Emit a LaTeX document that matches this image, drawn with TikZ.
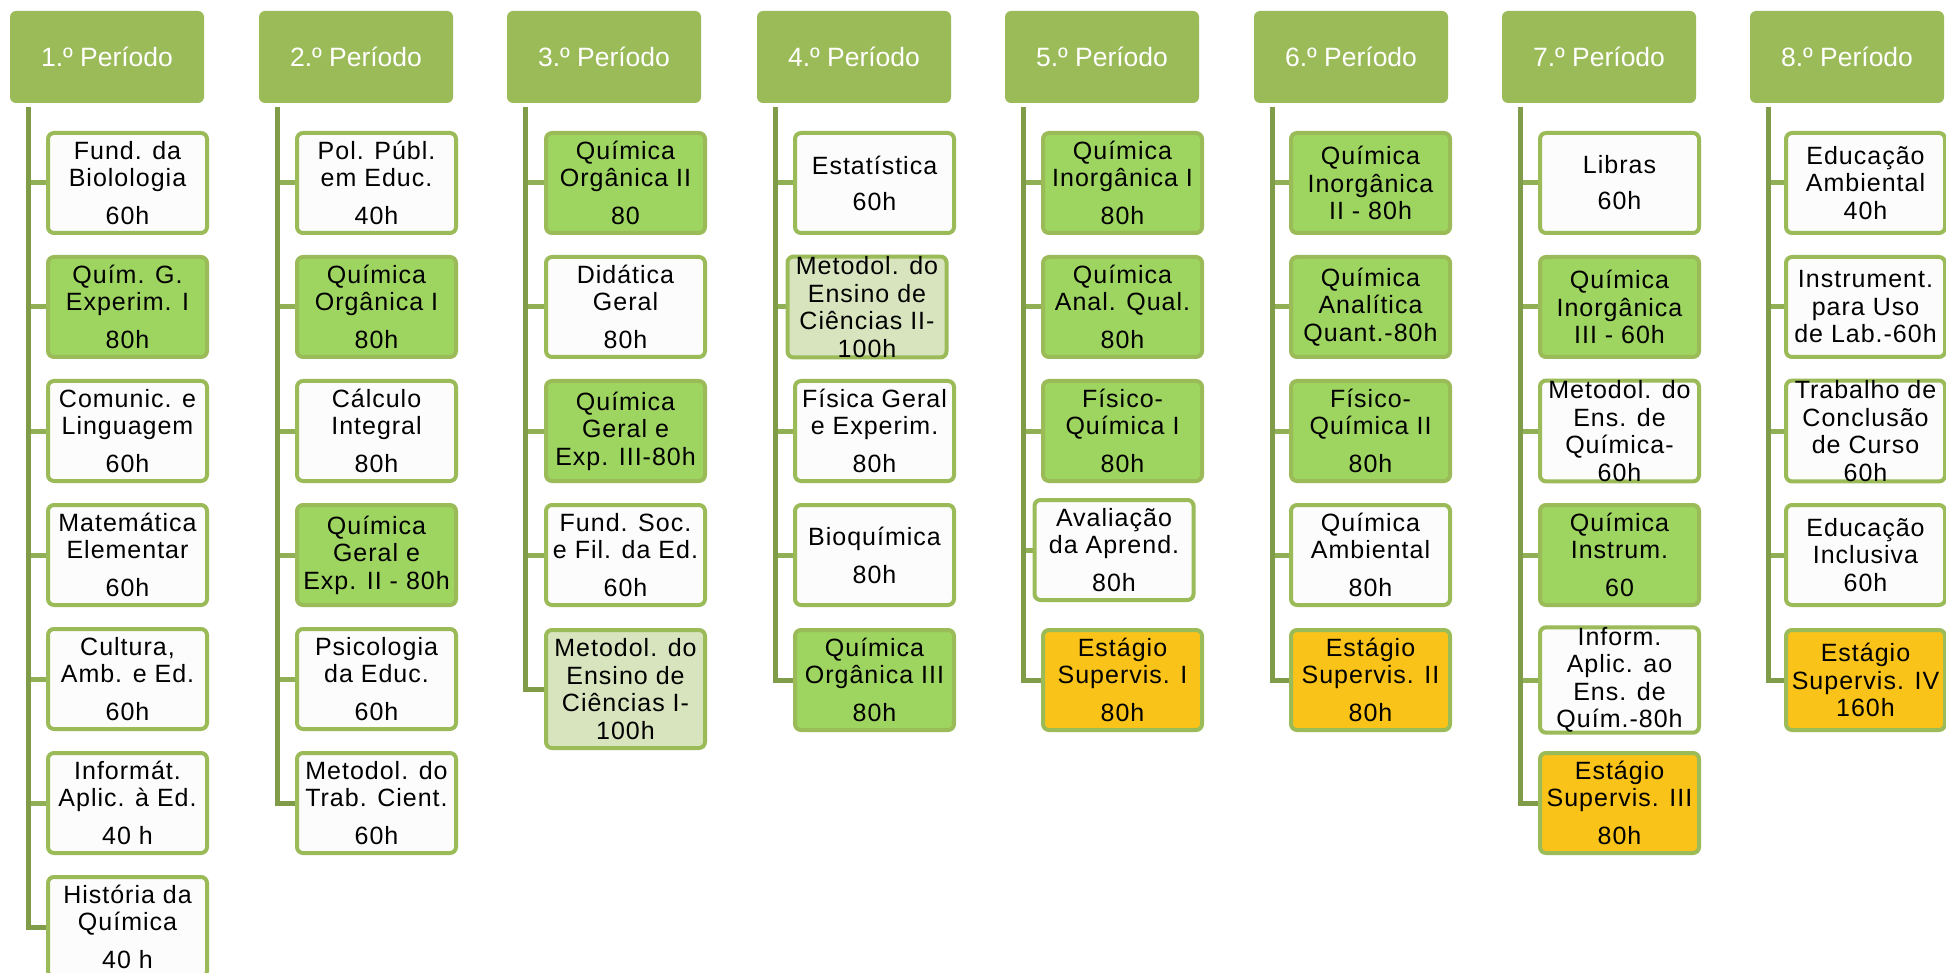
\documentclass[tikz,border=0pt]{standalone}
\usepackage{fontspec}
\setmainfont{Liberation Sans}
\newfontfamily\boxfont[LetterSpace=4]{Liberation Sans}
\newfontfamily\headfont{Liberation Sans}
\usetikzlibrary{backgrounds}
\definecolor{headgreen}{RGB}{155,187,89}
\definecolor{bordergreen}{RGB}{155,187,89}
\definecolor{boxgreen}{RGB}{158,212,96}
\definecolor{boxlight}{RGB}{216,228,190}
\definecolor{boxorange}{RGB}{250,195,25}
\definecolor{boxwhite}{RGB}{252,252,252}
\definecolor{linegreen}{RGB}{128,156,72}
\definecolor{tickgreen}{RGB}{145,175,85}
\tikzset{
  head/.style={fill=headgreen, rounded corners=6pt, minimum width=194pt, minimum height=92pt,
    inner sep=0pt, text=white, font=\headfont\fontsize{26.5}{30}\selectfont},
  box/.style={draw=bordergreen, line width=4pt, rounded corners=6pt, minimum width=159pt,
    minimum height=100pt, inner sep=0pt, align=center, text=black,
    font=\boxfont\fontsize{25}{27.5}\selectfont},
  wbox/.style={box, fill=boxwhite},
  gbox/.style={box, fill=boxgreen},
  lbox/.style={box, fill=boxlight},
  obox/.style={box, fill=boxorange},
  vline/.style={draw=linegreen, line width=5pt},
  tick/.style={draw=tickgreen, line width=5pt},
}
\begin{document}
\begin{tikzpicture}[x=1pt,y=-1pt]
\clip (0,0) rectangle (1946,973);
% headers
\node[head] (h1) at (107,57) {1.º Período};
\node[head] (h2) at (356,57) {2.º Período};
\node[head] (h3) at (604,57) {3.º Período};
\node[head] (h4) at (854,57) {4.º Período};
\node[head] (h5) at (1102,57) {5.º Período};
\node[head] (h6) at (1351,57) {6.º Período};
\node[head] (h7) at (1599,57) {7.º Período};
\node[head] (h8) at (1847,57) {8.º Período};
% column 1
\node[wbox] (c1r1) at (127.5,183) {Fund. da\\Biolologia\\[10.5pt]60h};
\node[gbox] (c1r2) at (127.5,307) {Quím. G.\\Experim. I\\[10.5pt]80h};
\node[wbox] (c1r3) at (127.5,431) {Comunic. e\\Linguagem\\[10.5pt]60h};
\node[wbox] (c1r4) at (127.5,555) {Matemática\\Elementar\\[10.5pt]60h};
\node[wbox] (c1r5) at (127.5,679) {Cultura,\\Amb. e Ed.\\[10.5pt]60h};
\node[wbox] (c1r6) at (127.5,803) {Informát.\\Aplic. à Ed.\\[10.5pt]40 h};
\node[wbox] (c1r7) at (127.5,927) {História da\\Química\\[10.5pt]40 h};
% column 2
\node[wbox] (c2r1) at (376.5,183) {Pol. Públ.\\em Educ.\\[10.5pt]40h};
\node[gbox] (c2r2) at (376.5,307) {Química\\Orgânica I\\[10.5pt]80h};
\node[wbox] (c2r3) at (376.5,431) {Cálculo\\Integral\\[10.5pt]80h};
\node[gbox] (c2r4) at (376.5,555) {Química\\Geral e\\Exp. II - 80h};
\node[wbox] (c2r5) at (376.5,679) {Psicologia\\da Educ.\\[10.5pt]60h};
\node[wbox] (c2r6) at (376.5,803) {Metodol. do\\Trab. Cient.\\[10.5pt]60h};
% column 3
\node[gbox] (c3r1) at (625.5,183) {Química\\Orgânica II\\[10.5pt]80};
\node[wbox] (c3r2) at (625.5,307) {Didática\\Geral\\[10.5pt]80h};
\node[gbox] (c3r3) at (625.5,431) {Química\\Geral e\\Exp. III-80h};
\node[wbox] (c3r4) at (625.5,555) {Fund. Soc.\\e Fil. da Ed.\\[10.5pt]60h};
\node[lbox, minimum height=118pt] (c3r5) at (625.5,689) {Metodol. do\\Ensino de\\Ciências I-\\100h};
% column 4
\node[wbox] (c4r1) at (874.5,183) {Estatística\\[8.5pt]60h};
\node[lbox] (c4r2) at (867,307) {Metodol. do\\Ensino de\\Ciências II-\\100h};
\node[wbox] (c4r3) at (874.5,431) {Física Geral\\e Experim.\\[10.5pt]80h};
\node[wbox] (c4r4) at (874.5,555) {Bioquímica\\[10.5pt]80h};
\node[gbox] (c4r5) at (874.5,680) {Química\\Orgânica III\\[10.5pt]80h};
% column 5
\node[gbox] (c5r1) at (1122.5,183) {Química\\Inorgânica I\\[10.5pt]80h};
\node[gbox] (c5r2) at (1122.5,307) {Química\\Anal. Qual.\\[10.5pt]80h};
\node[gbox] (c5r3) at (1122.5,431) {Físico-\\Química I\\[10.5pt]80h};
\node[wbox] (c5r4) at (1114,550) {Avaliação\\da Aprend.\\[10.5pt]80h};
\node[obox] (c5r5) at (1122.5,680) {Estágio\\Supervis. I\\[10.5pt]80h};
% column 6
\node[gbox] (c6r1) at (1370.5,183) {Química\\Inorgânica\\II - 80h};
\node[gbox] (c6r2) at (1370.5,307) {Química\\Analítica\\Quant.-80h};
\node[gbox] (c6r3) at (1370.5,431) {Físico-\\Química II\\[10.5pt]80h};
\node[wbox] (c6r4) at (1370.5,555) {Química\\Ambiental\\[10.5pt]80h};
\node[obox] (c6r5) at (1370.5,680) {Estágio\\Supervis. II\\[10.5pt]80h};
% column 7
\node[wbox] (c7r1) at (1619.5,183) {Libras\\[8.5pt]60h};
\node[gbox] (c7r2) at (1619.5,307) {Química\\Inorgânica\\III - 60h};
\node[wbox] (c7r3) at (1619.5,431) {Metodol. do\\Ens. de\\Química-\\60h};
\node[gbox] (c7r4) at (1619.5,555) {Química\\Instrum.\\[10.5pt]60};
\node[wbox] (c7r5) at (1619.5,680) {Inform.\\Aplic. ao\\Ens. de\\Quím.-80h};
\node[obox] (c7r6) at (1619.5,803) {Estágio\\Supervis. III\\[10.5pt]80h};
% column 8
\node[wbox] (c8r1) at (1865.5,183) {Educação\\Ambiental\\40h};
\node[wbox] (c8r2) at (1865.5,307) {Instrument.\\para Uso\\de Lab.-60h};
\node[wbox] (c8r3) at (1865.5,431) {Trabalho de\\Conclusão\\de Curso\\60h};
\node[wbox] (c8r4) at (1865.5,555) {Educação\\Inclusiva\\60h};
\node[obox] (c8r5) at (1865.5,680) {Estágio\\Supervis. IV\\160h};
% connectors
\begin{scope}[on background layer]
\fill[white] (0,0) rectangle (1946,973);
\coordinate (v1) at ([xshift=18.5pt,yshift=-4pt]h1.south west);
\coordinate (v2) at ([xshift=18.5pt,yshift=-4pt]h2.south west);
\coordinate (v3) at ([xshift=18.5pt,yshift=-4pt]h3.south west);
\coordinate (v4) at ([xshift=18.5pt,yshift=-4pt]h4.south west);
\coordinate (v5) at ([xshift=18.5pt,yshift=-4pt]h5.south west);
\coordinate (v6) at ([xshift=18.5pt,yshift=-4pt]h6.south west);
\coordinate (v7) at ([xshift=18.5pt,yshift=-4pt]h7.south west);
\coordinate (v8) at ([xshift=18.5pt,yshift=-4pt]h8.south west);
\foreach \r in {1,...,6} \draw[tick] (c1r\r.west) -- (c1r\r.west -| v1);
\draw[vline] (v1) |- (c1r7.west);
\foreach \r in {1,...,5} \draw[tick] (c2r\r.west) -- (c2r\r.west -| v2);
\draw[vline] (v2) |- (c2r6.west);
\foreach \r in {1,...,4} \draw[tick] (c3r\r.west) -- (c3r\r.west -| v3);
\draw[vline] (v3) |- (c3r5.west);
\foreach \r in {1,...,4} \draw[tick] (c4r\r.west) -- (c4r\r.west -| v4);
\draw[vline] (v4) |- (c4r5.west);
\foreach \r in {1,...,4} \draw[tick] (c5r\r.west) -- (c5r\r.west -| v5);
\draw[vline] (v5) |- (c5r5.west);
\foreach \r in {1,...,4} \draw[tick] (c6r\r.west) -- (c6r\r.west -| v6);
\draw[vline] (v6) |- (c6r5.west);
\foreach \r in {1,...,5} \draw[tick] (c7r\r.west) -- (c7r\r.west -| v7);
\draw[vline] (v7) |- (c7r6.west);
\foreach \r in {1,...,4} \draw[tick] (c8r\r.west) -- (c8r\r.west -| v8);
\draw[vline] (v8) |- (c8r5.west);
\end{scope}
\end{tikzpicture}
\end{document}
